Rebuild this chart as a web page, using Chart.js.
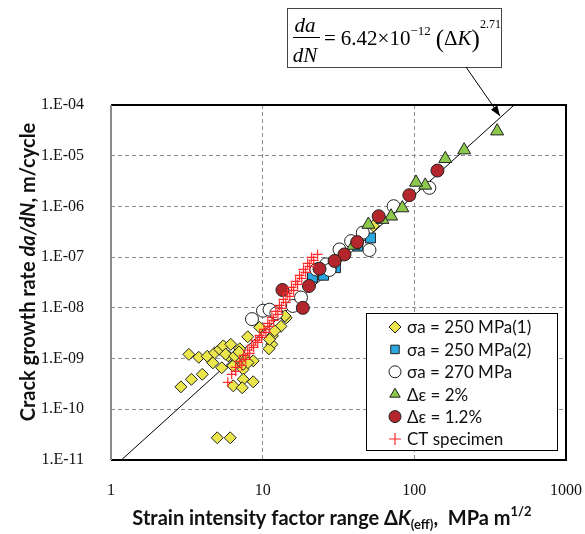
<!DOCTYPE html>
<html>
<head>
<meta charset="utf-8">
<script src="https://cdn.jsdelivr.net/npm/chart.js@4.4.1/dist/chart.umd.min.js"></script>
<style>
  body { margin: 0; background: #fff; }
</style>
</head>
<body>
<canvas id="crackChart" width="585" height="534"></canvas>
<script>
const xTicks = [1, 10, 100, 1000];
const xTickLabels = ['1', '10', '100', '1000'];
const yTicks = [1e-11, 1e-10, 1e-9, 1e-8, 1e-7, 1e-6, 1e-5, 1e-4];
const yTickLabels = ['1.E-11', '1.E-10', '1.E-09', '1.E-08', '1.E-07', '1.E-06', '1.E-05', '1.E-04'];

const seriesNames = ['σa = 250 MPa(1)', 'σa = 250 MPa(2)', 'σa = 270 MPa', 'Δε = 2%', 'Δε = 1.2%', 'CT specimen'];

// sigma_a = 250 MPa (1)
const s250aK = [3.26, 3.79, 4.31, 2.89, 3.39, 4.00, 4.69, 4.83, 5.21, 5.50, 5.37, 5.93, 6.16, 6.35, 6.90, 7.06,
  7.44, 7.79, 8.66, 7.97, 9.55, 11.6, 11.5, 11.0, 13.2, 14.3, 6.40, 7.44, 8.66, 7.33, 5.02, 6.11, 7.44, 12.0,
  14.0, 53.7, 32.1, 5.70, 6.54, 6.99, 8.0, 11.1];
const s250aRate = [1.21e-9, 1.06e-9, 1.11e-9, 2.77e-10, 3.90e-10, 4.90e-10, 8.24e-10, 1.30e-9, 1.52e-9, 1.78e-9,
  6.58e-10, 1.13e-9, 1.91e-9, 7.19e-10, 1.04e-9, 1.56e-9, 6.14e-10, 9.66e-10, 9.03e-10, 2.69e-9, 4.13e-9,
  2.81e-9, 1.91e-9, 1.56e-9, 4.32e-9, 6.35e-9, 2.90e-10, 3.90e-10, 3.48e-10, 2.66e-10, 2.74e-11, 2.74e-11,
  7.71e-10, 3.52e-9, 6.95e-9, 4.13e-7, 1.06e-7, 1.22e-9, 1.12e-9, 1.35e-9, 8.3e-10, 2.39e-9];

// sigma_a = 250 MPa (2)
const s250bK = [51.4, 42.4, 30.2, 25.2, 28.3, 21.3];
const s250bRate = [2.39e-7, 1.65e-7, 6.2e-8, 4.4e-8, 6.67e-8, 4.0e-8];

// sigma_a = 270 MPa
const s270K = [125.6, 73, 45.7, 50.6, 32.1, 38.3, 26.2, 22.6, 27.6, 15.8, 17.9, 8.5, 10.05, 11.1, 12.3];
const s270Rate = [2.33e-6, 1.01e-6, 3.03e-7, 1.38e-7, 1.42e-7, 2.07e-7, 7.2e-8, 5.7e-8, 5.6e-8, 1.09e-8, 1.6e-8,
  6.0e-9, 8.8e-9, 9.2e-9, 7.8e-9];

// strain range 2 %
const de2K = [351.6, 213, 160, 118, 102.6, 83.4, 70.3, 61.6, 49.8, 39.7];
const de2Rate = [3.05e-5, 1.29e-5, 8.7e-6, 2.6e-6, 2.97e-6, 9.3e-7, 6.4e-7, 5.5e-7, 4.4e-7, 1.7e-7];

// strain range 1.2 %
const de12K = [142, 92.7, 58.2, 42, 34.6, 29.8, 23.7, 20.2, 13.5, 18.4];
const de12Rate = [5.1e-6, 1.67e-6, 6.4e-7, 1.98e-7, 1.13e-7, 8.4e-8, 5.9e-8, 2.7e-8, 2.25e-8, 1.0e-8];

// CT specimen
const ctK = [5.89, 6.25, 6.64, 7.06, 7.50, 7.97, 8.47, 8.99, 9.55, 10.2, 10.8, 11.5, 12.2, 12.9, 13.7, 14.6, 15.5,
  16.5, 17.5, 18.6, 19.8, 21.0,
  6.64, 7.27, 7.73, 8.21, 8.72, 9.27, 9.85, 10.5, 11.1, 11.8, 12.6, 13.3, 14.2, 15.1, 16.0, 17.0, 18.1, 19.2,
  20.4, 21.7, 23.0];
const ctRate = [3.40e-10, 4.90e-10, 6.73e-10, 8.83e-10, 1.16e-9, 1.46e-9, 1.83e-9, 2.29e-9, 2.87e-9, 3.77e-9,
  4.95e-9, 6.50e-9, 8.53e-9, 1.12e-8, 1.47e-8, 1.93e-8, 2.54e-8, 3.33e-8, 4.37e-8, 5.74e-8, 7.53e-8, 9.89e-8,
  5.61e-10, 7.36e-10, 9.66e-10, 1.27e-9, 1.67e-9, 2.09e-9, 2.62e-9, 3.29e-9, 4.32e-9, 5.67e-9, 7.45e-9,
  9.78e-9, 1.28e-8, 1.69e-8, 2.21e-8, 2.90e-8, 3.81e-8, 5.01e-8, 6.58e-8, 8.63e-8, 1.13e-7];

// power law fit end points
const fitK = [1.17, 455];
const fitRate = [1.0e-11, 1.0e-4];

function points(ks, rates) {
  return ks.map((k, i) => ({ x: k, y: rates[i] }));
}

function marker(label, ks, rates, style, radius, fill, border, order) {
  return {
    label: label,
    data: points(ks, rates),
    pointStyle: style,
    pointRadius: radius,
    pointHoverRadius: radius,
    pointBackgroundColor: fill,
    pointBorderColor: border,
    pointBorderWidth: 1,
    order: order
  };
}

const datasets = [
  marker(seriesNames[0], s250aK, s250aRate, 'rectRot', 6, '#ebe64c', '#222', 6),
  marker(seriesNames[1], s250bK, s250bRate, 'rect', 7, '#2aa7de', '#222', 5),
  marker(seriesNames[2], s270K, s270Rate, 'circle', 6.5, '#ffffff', '#222', 4),
  marker(seriesNames[3], de2K, de2Rate, 'triangle', 7.5, '#8cc84b', '#222', 3),
  marker(seriesNames[4], de12K, de12Rate, 'circle', 6.5, '#b3262c', '#222', 2),
  Object.assign(marker(seriesNames[5], ctK, ctRate, 'cross', 5, '#ff2a2a', '#ff2a2a', 1), { pointBorderWidth: 1.2 }),
  {
    label: 'fit',
    data: points(fitK, fitRate),
    showLine: true,
    borderColor: '#000',
    borderWidth: 1,
    pointRadius: 0,
    order: 7
  }
];

function drawRich(ctx, parts, x, y) {
  let total = 0;
  parts.forEach(p => { ctx.font = p.font; total += ctx.measureText(p.text).width; });
  let cx = x - total / 2;
  parts.forEach(p => {
    ctx.font = p.font;
    ctx.fillText(p.text, cx, y + (p.dy || 0));
    cx += ctx.measureText(p.text).width;
  });
}

const extras = {
  id: 'extras',
  afterDraw(chart) {
    const ctx = chart.ctx;
    const a = chart.chartArea;
    ctx.save();
    ctx.textAlign = 'left';

    // plot frame
    ctx.lineWidth = 2;
    ctx.strokeStyle = '#000';
    ctx.beginPath();
    ctx.moveTo(a.left, a.top);
    ctx.lineTo(a.right, a.top);
    ctx.lineTo(a.right, a.bottom);
    ctx.lineTo(a.left, a.bottom);
    ctx.stroke();
    ctx.strokeStyle = '#8a8a8a';
    ctx.beginPath();
    ctx.moveTo(a.left, a.top);
    ctx.lineTo(a.left, a.bottom);
    ctx.stroke();

    // legend box
    const lx = 366, ly = 313, lw = 191, lh = 137;
    ctx.fillStyle = '#fff';
    ctx.fillRect(lx, ly, lw, lh);
    ctx.strokeStyle = '#000';
    ctx.lineWidth = 1;
    ctx.strokeRect(lx + 0.5, ly + 0.5, lw, lh);
    ctx.textBaseline = 'middle';
    chart.data.datasets.slice(0, 6).forEach((ds, i) => {
      const y = ly + 14 + i * 22.4;
      ctx.fillStyle = ds.pointBackgroundColor;
      ctx.strokeStyle = ds.pointBorderColor;
      ctx.lineWidth = ds.pointBorderWidth;
      Chart.helpers.drawPoint(ctx, {
        pointStyle: ds.pointStyle,
        radius: ds.pointStyle === 'cross' ? 6 : Math.min(ds.pointRadius, 6),
        rotation: 0,
        borderWidth: ds.pointBorderWidth
      }, lx + 29, y);
      ctx.fillStyle = '#111';
      ctx.font = '17px Lato';
      ctx.fillText(ds.label, lx + 41, y + 1);
    });

    // axis titles
    ctx.fillStyle = '#111';
    ctx.textBaseline = 'middle';
    drawRich(ctx, [
      { text: 'Strain intensity factor range Δ', font: 'bold 20px Lato' },
      { text: 'K', font: 'bold italic 20px Lato' },
      { text: '(eff)', font: 'bold 13px Lato', dy: 6 },
      { text: ',  MPa m', font: 'bold 20px Lato' },
      { text: '1/2', font: 'bold 13px Lato', dy: -7 }
    ], 332, 519);

    ctx.save();
    ctx.translate(29, 272);
    ctx.rotate(-Math.PI / 2);
    drawRich(ctx, [
      { text: 'Crack growth rate ', font: 'bold 20px Lato' },
      { text: 'da/dN', font: 'bold italic 20px Lato' },
      { text: ', m/cycle', font: 'bold 20px Lato' }
    ], 0, 0);
    ctx.restore();

    // equation box
    const bx = 287, by = 8, bw = 214, bh = 59;
    ctx.fillStyle = '#fff';
    ctx.fillRect(bx, by, bw, bh);
    ctx.strokeStyle = '#444';
    ctx.lineWidth = 1;
    ctx.strokeRect(bx + 0.5, by + 0.5, bw, bh);
    ctx.fillStyle = '#000';
    ctx.textBaseline = 'alphabetic';
    ctx.textAlign = 'center';
    ctx.font = 'italic 21px "Liberation Serif"';
    ctx.fillText('da', 305, 32);
    ctx.fillText('dN', 305, 62);
    ctx.fillRect(293, 37, 27, 1);
    ctx.textAlign = 'left';
    let ex = 324;
    const piece = (t, f, dy) => {
      ctx.font = f;
      ctx.fillText(t, ex, 45 + dy);
      ex += ctx.measureText(t).width;
    };
    piece('=', '21px "Liberation Serif"', 0);
    ex += 5;
    piece('6.42×10', '21px "Liberation Serif"', 0);
    piece('−12', '13px "Liberation Serif"', -10);
    ex += 5;
    piece('(', '25px "Liberation Serif"', 2);
    piece('Δ', '21px "Liberation Serif"', 0);
    piece('K', 'italic 21px "Liberation Serif"', 0);
    piece(')', '25px "Liberation Serif"', 2);
    piece('2.71', '12px "Liberation Serif"', -17);

    // arrow to fit line
    const tipX = 500, tipY = 116, startX = 466, startY = 67;
    const ang = Math.atan2(tipY - startY, tipX - startX);
    ctx.strokeStyle = '#000';
    ctx.lineWidth = 1;
    ctx.beginPath();
    ctx.moveTo(startX, startY);
    ctx.lineTo(tipX, tipY);
    ctx.stroke();
    ctx.beginPath();
    ctx.moveTo(tipX, tipY);
    ctx.lineTo(tipX - 11 * Math.cos(ang - 0.35), tipY - 11 * Math.sin(ang - 0.35));
    ctx.lineTo(tipX - 11 * Math.cos(ang + 0.35), tipY - 11 * Math.sin(ang + 0.35));
    ctx.closePath();
    ctx.fill();

    ctx.restore();
  }
};

const ctx = document.getElementById('crackChart').getContext('2d');
new Chart(ctx, {
  type: 'scatter',
  data: { datasets: datasets },
  options: {
    responsive: false,
    animation: false,
    layout: { padding: { top: 105, right: 19, left: 0, bottom: 0 } },
    plugins: {
      legend: { display: false },
      tooltip: { enabled: false }
    },
    scales: {
      x: {
        type: 'logarithmic',
        min: 1,
        max: 1000,
        afterBuildTicks: scale => { scale.ticks = xTicks.map(v => ({ value: v })); },
        afterFit: scale => {
          scale.height = 74;
          scale.paddingLeft = 0;
          scale.paddingRight = 0;
        },
        ticks: {
          autoSkip: false,
          maxRotation: 0,
          padding: 21,
          color: '#111',
          font: { family: 'Liberation Serif', size: 16 },
          callback: (v, i) => xTickLabels[i]
        },
        grid: { color: '#8c8c8c', drawTicks: false },
        border: { display: false, dash: [4, 3] }
      },
      y: {
        type: 'logarithmic',
        min: 1e-11,
        max: 1e-4,
        afterBuildTicks: scale => { scale.ticks = yTicks.map(v => ({ value: v })); },
        afterFit: scale => {
          scale.width = 111;
          scale.paddingTop = 0;
          scale.paddingBottom = 0;
        },
        ticks: {
          autoSkip: false,
          padding: 27,
          color: '#111',
          font: { family: 'Liberation Serif', size: 16 },
          callback: (v, i) => yTickLabels[i]
        },
        grid: { color: '#8c8c8c', drawTicks: false },
        border: { display: false, dash: [4, 3] }
      }
    }
  },
  plugins: [extras]
});
</script>
</body>
</html>
